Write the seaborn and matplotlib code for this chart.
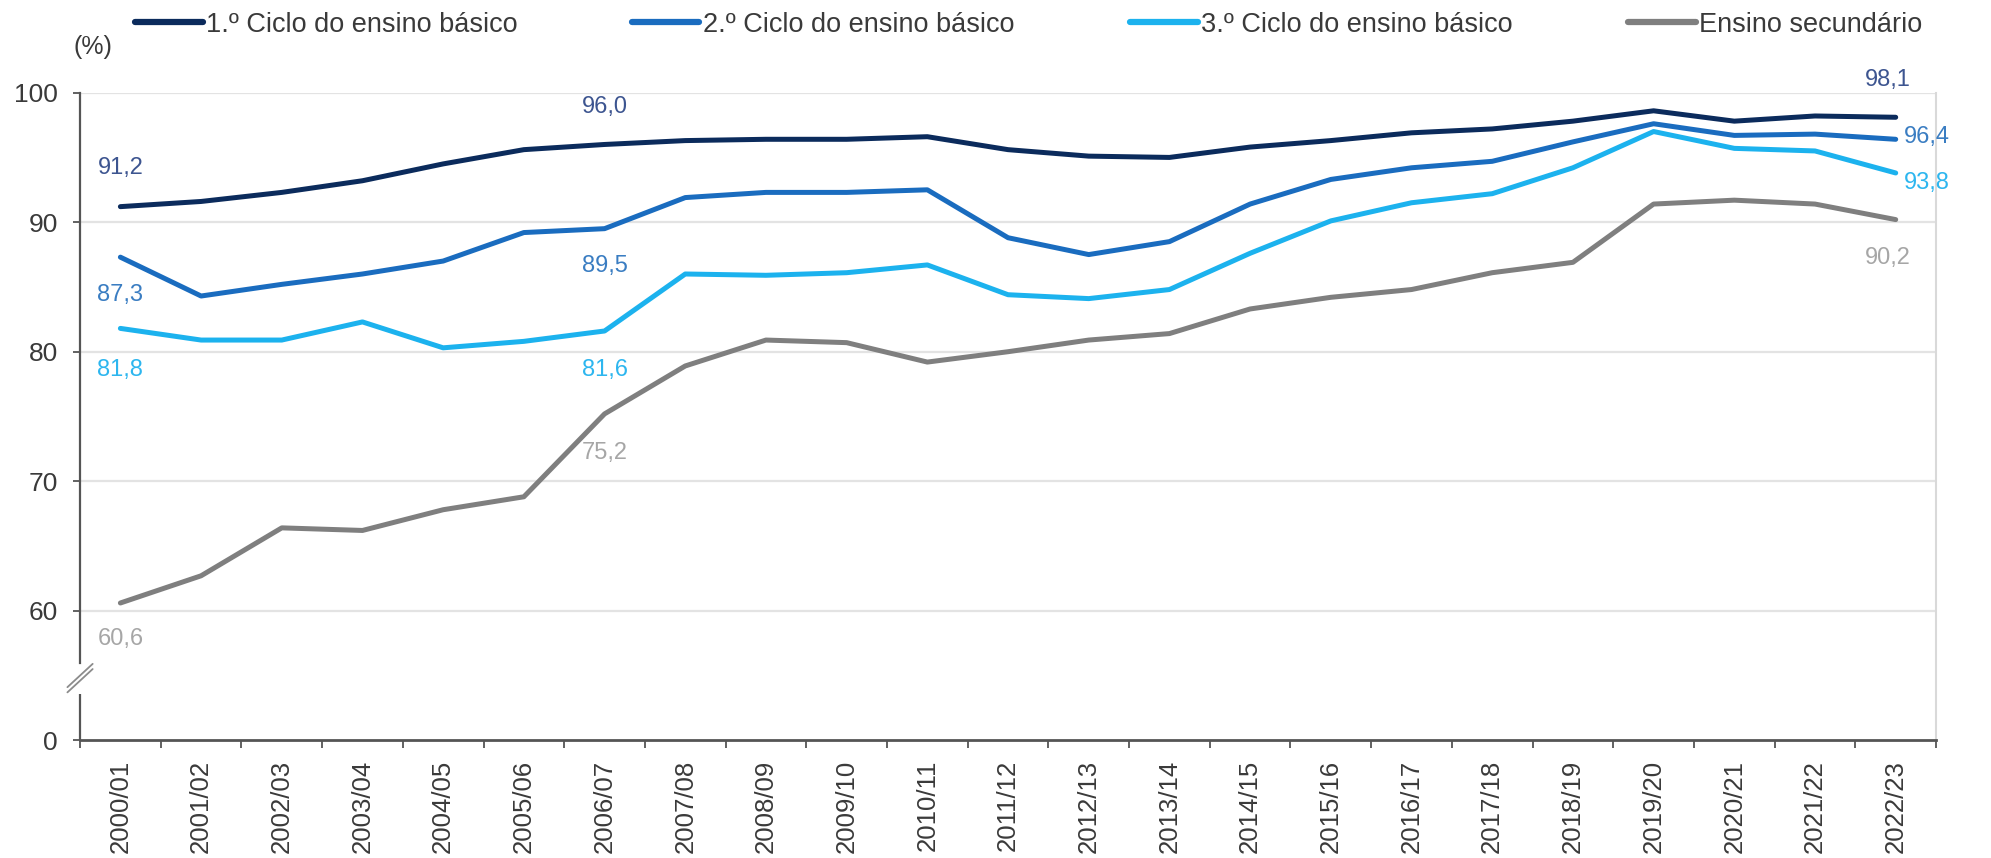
import matplotlib
matplotlib.use("Agg")
import matplotlib.pyplot as plt
import matplotlib.transforms as mtransforms
from matplotlib.lines import Line2D
import seaborn as sns
import pandas as pd

anos = ["2000/01", "2001/02", "2002/03", "2003/04", "2004/05", "2005/06", "2006/07",
        "2007/08", "2008/09", "2009/10", "2010/11", "2011/12", "2012/13", "2013/14",
        "2014/15", "2015/16", "2016/17", "2017/18", "2018/19", "2019/20", "2020/21",
        "2021/22", "2022/23"]

ciclo1 = [91.2, 91.6, 92.3, 93.2, 94.5, 95.6, 96.0, 96.3, 96.4, 96.4, 96.6, 95.6,
          95.1, 95.0, 95.8, 96.3, 96.9, 97.2, 97.8, 98.6, 97.8, 98.2, 98.1]
ciclo2 = [87.3, 84.3, 85.2, 86.0, 87.0, 89.2, 89.5, 91.9, 92.3, 92.3, 92.5, 88.8,
          87.5, 88.5, 91.4, 93.3, 94.2, 94.7, 96.2, 97.6, 96.7, 96.8, 96.4]
ciclo3 = [81.8, 80.9, 80.9, 82.3, 80.3, 80.8, 81.6, 86.0, 85.9, 86.1, 86.7, 84.4,
          84.1, 84.8, 87.6, 90.1, 91.5, 92.2, 94.2, 97.0, 95.7, 95.5, 93.8]
secundario = [60.6, 62.7, 66.4, 66.2, 67.8, 68.8, 75.2, 78.9, 80.9, 80.7, 79.2, 80.0,
              80.9, 81.4, 83.3, 84.2, 84.8, 86.1, 86.9, 91.4, 91.7, 91.4, 90.2]

series_names = ["1.º Ciclo do ensino básico", "2.º Ciclo do ensino básico",
                "3.º Ciclo do ensino básico", "Ensino secundário"]
series_values = [ciclo1, ciclo2, ciclo3, secundario]

y_ticks = [50, 60, 70, 80, 90, 100]
y_ticklabels = ["0", "60", "70", "80", "90", "100"]

line_colors = ["#0b2b5c", "#1a6cbf", "#1cb2ee", "#7f7f7f"]
label_colors = ["#3d5590", "#3a7dc2", "#2db6ef", "#a6a6a6"]

rows = []
for name, vals in zip(series_names, series_values):
    for a, v in zip(anos, vals):
        rows.append({"ano": a, "valor": v, "serie": name})
df = pd.DataFrame(rows)

sns.set_theme(style="white")
plt.rcParams["font.family"] = ["Liberation Sans", "DejaVu Sans"]

fig = plt.figure(figsize=(19.91, 8.58), dpi=100)
ax = fig.add_axes([0.0402, 0.1372, 0.9322, 0.7548])

sns.lineplot(data=df, x="ano", y="valor", hue="serie", hue_order=series_names,
             palette=line_colors, linewidth=3.6, legend=False, sort=False, ax=ax)

n = len(anos)
ax.set_xlim(-0.5, n - 0.5)
ax.set_ylim(50, 100)
ax.set_xlabel("")
ax.set_ylabel("")

# grid
for yv in y_ticks[1:]:
    ax.axhline(yv, color="#e3e3e3", lw=1.6, zorder=0)

ax.set_yticks(y_ticks)
ax.set_yticklabels(y_ticklabels)
ax.tick_params(axis="y", which="major", left=True, length=5, width=1.3,
               color="#555555", labelsize=19, labelcolor="#3a3a3a", pad=11)

ax.set_xticks([i - 0.5 for i in range(n + 1)])
ax.set_xticklabels([])
ax.set_xticks(list(range(n)), minor=True)
ax.set_xticklabels(anos, minor=True, rotation=90)
ax.tick_params(axis="x", which="major", bottom=True, length=6, width=1.3,
               color="#555555")
ax.tick_params(axis="x", which="minor", bottom=False, length=0,
               labelsize=18.5, labelcolor="#3a3a3a", pad=14)

ax.spines["top"].set_visible(False)
ax.spines["right"].set_color("#d9d9d9")
ax.spines["right"].set_linewidth(1.5)
ax.spines["right"].set_bounds(50, 100)
ax.spines["bottom"].set_color("#555555")
ax.spines["bottom"].set_linewidth(2.0)
ax.spines["left"].set_color("#555555")
ax.spines["left"].set_linewidth(1.6)
ax.spines["left"].set_bounds(56.0, 100)
ax.plot([-0.5, -0.5], [50, 53.6], color="#555555", lw=1.6, clip_on=False,
        solid_capstyle="butt")

# break marks "//"
tr = mtransforms.blended_transform_factory(ax.transAxes, ax.transData)
for d in (-0.2, 0.2):
    ax.add_line(Line2D([-0.0068, 0.0068], [53.9 + d, 55.7 + d], transform=tr,
                       color="#8c8c8c", lw=1.3, clip_on=False))

def fmt(v):
    return f"{v:.1f}".replace(".", ",")

# annotations: (series index, category index, dx pt, dy pt, ha)
ann = [
    (0, 0, 0, 28, "center"), (0, 6, 0, 27, "center"), (0, n - 1, -6, 27, "center"),
    (1, 0, 0, -27, "center"), (1, 6, 0, -27, "center"), (1, n - 1, 6, 2, "left"),
    (2, 0, 0, -30, "center"), (2, 6, 0, -28, "center"), (2, n - 1, 6, -7, "left"),
    (3, 0, 0, -26, "center"), (3, 6, 0, -28, "center"), (3, n - 1, -6, -28, "center"),
]
for s, i, dx, dy, ha in ann:
    v = series_values[s][i]
    ax.annotate(fmt(v), xy=(i, v), xytext=(dx, dy), textcoords="offset points",
                ha=ha, va="center", fontsize=17, color=label_colors[s],
                annotation_clip=False)

fig.text(0.0367, 0.945, "(%)", fontsize=18, color="#3a3a3a", ha="left", va="center")

# legend entries
leg_x = [0.0678, 0.3173, 0.5676, 0.8177]
for name, col, xx in zip(series_names, line_colors, leg_x):
    h = Line2D([], [], color=col, lw=4.5)
    leg = fig.legend([h], [name], loc="center left", bbox_to_anchor=(xx, 0.971),
                     frameon=False, fontsize=19.5, handlelength=2.5,
                     handletextpad=0.12, borderpad=0, borderaxespad=0)
    for t in leg.get_texts():
        t.set_color("#3a3a3a")

fig.savefig("out.png", dpi=100, facecolor="white")
